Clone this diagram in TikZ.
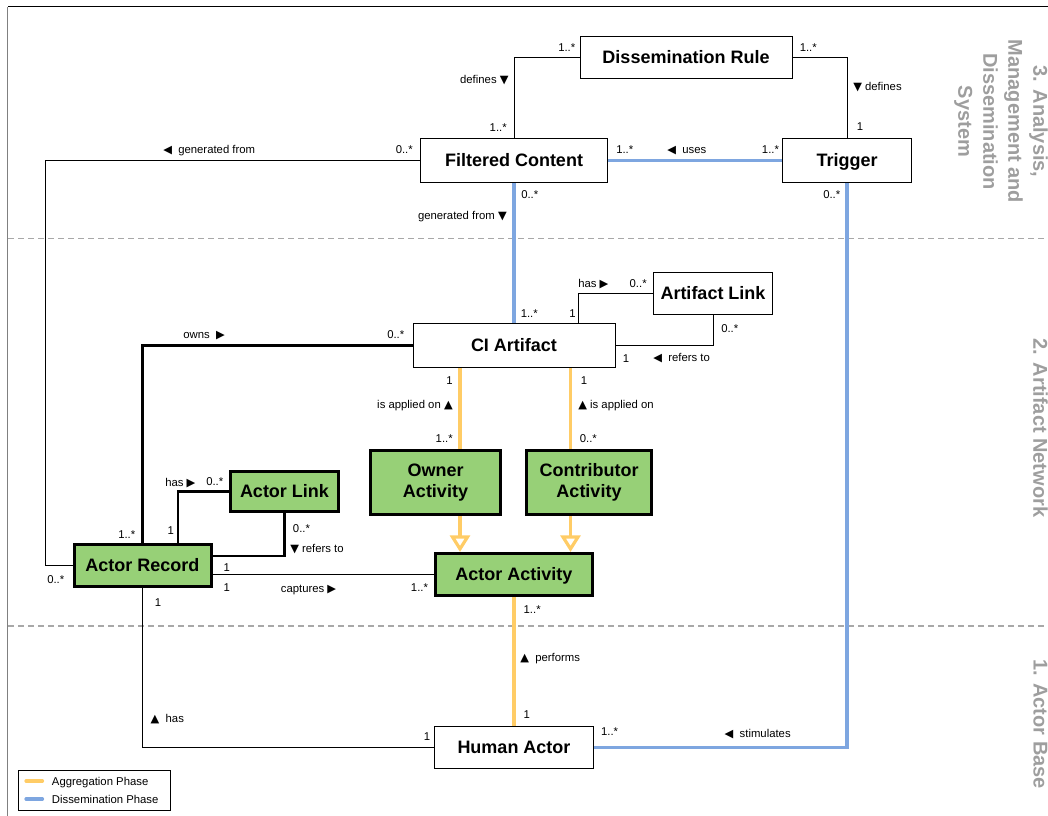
\documentclass[tikz,border=0pt]{standalone}
\usepackage{fontspec}
\setmainfont{Liberation Sans}
\newfontfamily\trifont{DejaVu Sans}
\usetikzlibrary{arrows.meta}

\definecolor{aggr}{HTML}{FFCC66}
\definecolor{dissem}{HTML}{7EA6E0}
\definecolor{actfill}{HTML}{97D077}
\definecolor{layergray}{HTML}{9E9E9E}
\definecolor{sepgray}{HTML}{A8A8A8}
\definecolor{framegray}{HTML}{808080}

% direction markers for association names
\newcommand\rt{{\trifont ▶}}
\newcommand\lt{{\trifont ◀}}
\newcommand\up{{\trifont ▲}}
\newcommand\dn{{\trifont ▼}}

\begin{document}
\begin{tikzpicture}[x=0.75pt,y=-0.75pt,
  every node/.style={inner sep=0pt},
  cls/.style={draw=black, line width=0.75pt, fill=white,
    font=\fontsize{13.5pt}{15.75pt}\selectfont\bfseries, align=center},
  act/.style={cls, fill=actfill, line width=2.25pt},
  one/.style={text height=9.7pt, text depth=0pt},
  csz/.style 2 args={minimum width={(#1-1)*0.75pt}, minimum height={(#2-1)*0.75pt}},
  asz/.style 2 args={minimum width={(#1-3)*0.75pt}, minimum height={(#2-3)*0.75pt}},
  lab/.style={font=\fontsize{8.5pt}{10pt}\selectfont},
  lw/.style={lab, anchor=base west},
  le/.style={lab, anchor=base east},
  layer/.style={text=layergray, font=\fontsize{15pt}{18.75pt}\selectfont\bfseries,
    align=center, rotate=-90},
  plain/.style={draw=black, line width=0.75pt},
  strong/.style={draw=black, line width=1.7pt},
  aggline/.style={draw=aggr, line width=2.4pt},
  disline/.style={draw=dissem, line width=2.4pt},
  gen/.style={-{Triangle[open, length=12.5pt, width=15pt]}},
  sep/.style={draw=sepgray, line width=1.1pt, dash pattern=on 4.5pt off 3pt}
]
\useasboundingbox (0,0) rectangle (1048,816);

% frame and layer separators
\draw[black, line width=0.75pt] (8,7) -- (1048,7);
\draw[framegray, line width=1.4pt] (7.5,7) -- (7.5,816);
\draw[sep] (8,238.5) -- (1048,238.5);
\draw[sep] (8,626) -- (1048,626);

% layer titles
\node[layer] (L3) at (1001,121.5) {3. Analysis,\\Management and\\Dissemination\\System};
\node[layer] (L2) at (1040.5,428) {2. Artifact Network};
\node[layer] (L1) at (1040.5,724) {1. Actor Base};

% classes
\node[cls, one, csz={213}{43}] (DR)   at (686,57.5)    {Dissemination Rule};
\node[cls, one, csz={188}{45}] (FC)   at (514,160.5)   {Filtered Content};
\node[cls, one, csz={130}{45}] (Trig) at (847,160.5)   {Trigger};
\node[cls, one, csz={203}{45}] (CI)   at (514,345.5)   {CI Artifact};
\node[cls, one, csz={120}{43}] (AL)   at (713,293.5)   {Artifact Link};
\node[act, asz={133}{67}]      (OA)   at (435.5,482.5) {Owner\\Activity};
\node[act, asz={128}{67}]      (CA)   at (589,482.5)   {Contributor\\Activity};
\node[act, one, asz={111}{43}] (ActL) at (284.5,491.5) {Actor Link};
\node[act, one, asz={140}{45}] (AR)   at (142.5,565.5) {Actor Record};
\node[act, one, asz={160}{45}] (AA)   at (514,574.5)   {Actor Activity};
\node[cls, one, csz={160}{43}] (HA)   at (514,747.5)   {Human Actor};

% routing columns and rows
\coordinate (xG)  at (45,0);
\coordinate (xH)  at (578.6,0);
\coordinate (xY1) at (460,0);
\coordinate (xY2) at (570.5,0);
\coordinate (xK)  at (177.7,0);
\coordinate (yR)  at (0,555.7);

% associations
\draw[plain] (DR.west) -| (FC.north);
\draw[plain] (DR.east) -| (Trig.north);
\draw[disline] (FC.east) -- (Trig.west);
\draw[plain] (FC.west) -| (xG |- AR.west) -- (AR.west);
\draw[disline] (FC.south) -- (CI.north);
\draw[plain] (CI.north -| xH) |- (AL.west);
\draw[plain] (AL.south) |- (CI.east);
\draw[strong] (CI.west) -| (AR.north);
\draw[aggline] (CI.south -| xY1) -- (OA.north -| xY1);
\draw[aggline] (CI.south -| xY2) -- (CA.north -| xY2);
\draw[aggline, gen] (OA.south -| xY1) -- (AA.north -| xY1);
\draw[aggline, gen] (CA.south -| xY2) -- (AA.north -| xY2);
\draw[strong] (AR.north -| xK) |- (ActL.west);
\draw[strong] (ActL.south) |- (AR.east |- yR);
\draw[plain] (AR.east |- AA.west) -- (AA.west);
\draw[plain] (AR.south) |- (HA.west);
\draw[aggline] (AA.south) -- (HA.north);
\draw[disline] (HA.east) -| (Trig.south);

% multiplicities and association names
\node[lw] (l1)  at (558,52)     {1..*};
\node[lw] (l2)  at (799.5,52)   {1..*};
\node[lw] (l3)  at (853,91)     {\dn\ defines};
\node[lw] (l4)  at (856.7,131)  {1};
\node[lw] (l5)  at (163,154)    {\lt\ \ generated from};
\node[lw] (l6)  at (395.5,154)  {0..*};
\node[lw] (l7)  at (616,154)    {1..*};
\node[lw] (l8)  at (667,154)    {\lt\ \ uses};
\node[lw] (l9)  at (761.7,154)  {1..*};
\node[lw] (l10) at (521,199)    {0..*};
\node[lw] (l11) at (823,199)    {0..*};
\node[lw] (l12) at (520.5,317)  {1..*};
\node[lw] (l13) at (578,287)    {has \rt};
\node[lw] (l14) at (629.4,287)  {0..*};
\node[lw] (l15) at (569,317)    {1};
\node[lw] (l16) at (721,332)    {0..*};
\node[lw] (l17) at (622.7,362)  {1};
\node[lw] (l18) at (653,361)    {\lt\ \ refers to};
\node[lw] (l19) at (183,338)    {owns \ \rt};
\node[lw] (l20) at (387,338)    {0..*};
\node[lw] (l21) at (580.6,384)  {1};
\node[lw] (l22) at (578,408)    {\up\ is applied on};
\node[lw] (l23) at (579.6,442)  {0..*};
\node[lw] (l24) at (165,486)    {has \rt};
\node[lw] (l25) at (206,485)    {0..*};
\node[lw] (l26) at (167.3,534)  {1};
\node[lw] (l27) at (118,538)    {1..*};
\node[lw] (l28) at (292.7,532)  {0..*};
\node[lw] (l29) at (290,552)    {\dn\ refers to};
\node[lw] (l30) at (223.3,571)  {1};
\node[lw] (l31) at (223.3,591)  {1};
\node[lw] (l32) at (280.6,592)  {captures \rt};
\node[lw] (l33) at (410.7,591)  {1..*};
\node[lw] (l34) at (47,583)     {0..*};
\node[lw] (l35) at (154.5,606)  {1};
\node[lw] (l36) at (150.4,722)  {\up\ \ has};
\node[lw] (l37) at (423.6,740)  {1};
\node[lw] (l38) at (523.4,613)  {1..*};
\node[lw] (l39) at (520,661)    {\up\ \ performs};
\node[lw] (l40) at (523.4,718)  {1};
\node[lw] (l41) at (600.8,735)  {1..*};
\node[lw] (l42) at (724.4,737)  {\lt\ \ stimulates};
\node[le] (r1)  at (508.8,84)   {defines \dn};
\node[le] (r2)  at (507,132)    {1..*};
\node[le] (r3)  at (507,220)    {generated from \dn};
\node[le] (r4)  at (453,384)    {1};
\node[le] (r5)  at (453,408)    {is applied on \up};
\node[le] (r6)  at (453,442)    {1..*};

% legend
\node[draw=black, line width=0.75pt, anchor=north west,
      minimum width=152.4*0.75pt, minimum height=40.4*0.75pt] (legend) at (17.8,769.8) {};
\draw[aggr, line width=2.4pt, line cap=round] (26,781) -- (42.5,781);
\draw[dissem, line width=2.4pt, line cap=round] (26,799) -- (42.5,799);
\node[lw] (lg1) at (51.7,785) {Aggregation Phase};
\node[lw] (lg2) at (51.7,803) {Dissemination Phase};
\end{tikzpicture}
\end{document}
